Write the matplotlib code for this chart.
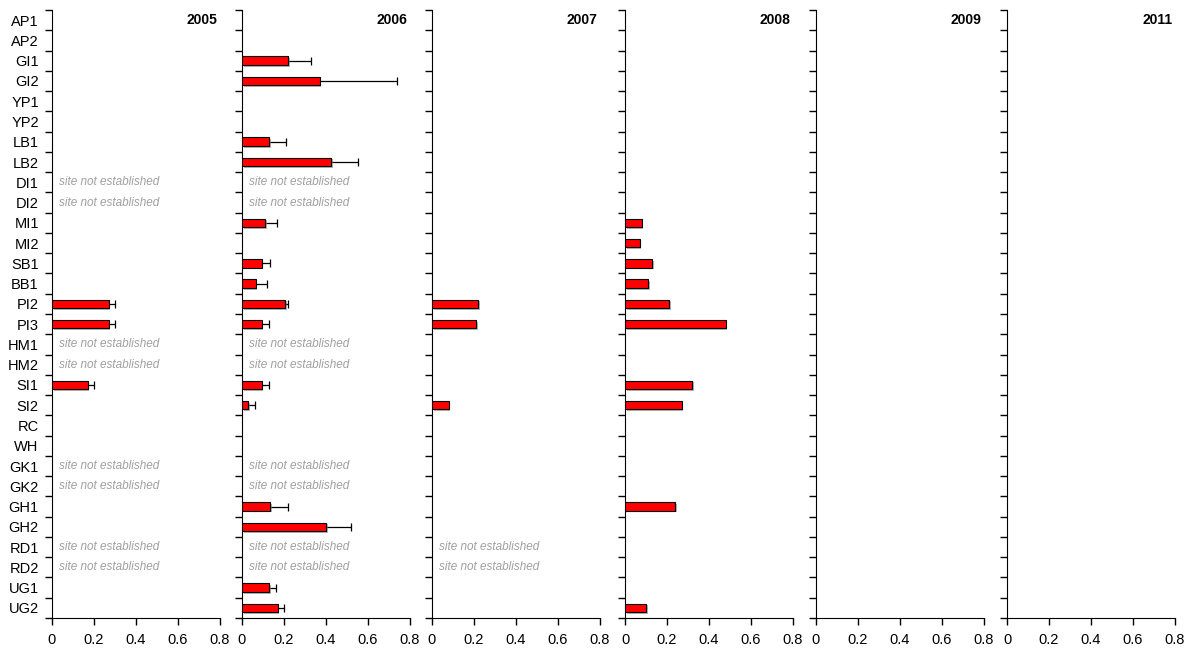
import numpy as np
import matplotlib.pyplot as plt
import matplotlib.patheffects as pe

plt.rcParams["font.family"] = ["Liberation Sans", "DejaVu Sans"]

sites = ["AP1", "AP2", "GI1", "GI2", "YP1", "YP2", "LB1", "LB2", "DI1", "DI2",
         "MI1", "MI2", "SB1", "BB1", "PI2", "PI3", "HM1", "HM2", "SI1", "SI2",
         "RC", "WH", "GK1", "GK2", "GH1", "GH2", "RD1", "RD2", "UG1", "UG2"]

years = ["2005", "2006", "2007", "2008", "2009", "2011"]

# mean values per site (missing = no bar)
vals_2005 = {"PI2": 0.27, "PI3": 0.27, "SI1": 0.17}
err_2005 = {"PI2": 0.03, "PI3": 0.03, "SI1": 0.03}

vals_2006 = {"GI1": 0.22, "GI2": 0.37, "LB1": 0.13, "LB2": 0.425, "MI1": 0.11,
             "SB1": 0.094, "BB1": 0.065, "PI2": 0.205, "PI3": 0.094, "SI1": 0.094,
             "SI2": 0.03, "GH1": 0.133, "GH2": 0.40, "UG1": 0.13, "UG2": 0.17}
err_2006 = {"GI1": 0.11, "GI2": 0.37, "LB1": 0.08, "LB2": 0.125, "MI1": 0.057,
            "SB1": 0.039, "BB1": 0.055, "PI2": 0.015, "PI3": 0.036, "SI1": 0.036,
            "SI2": 0.032, "GH1": 0.087, "GH2": 0.12, "UG1": 0.03, "UG2": 0.03}

vals_2007 = {"PI2": 0.22, "PI3": 0.21, "SI2": 0.08}
err_2007 = {}

vals_2008 = {"MI1": 0.08, "MI2": 0.07, "SB1": 0.13, "BB1": 0.11, "PI2": 0.21,
             "PI3": 0.48, "SI1": 0.32, "SI2": 0.27, "GH1": 0.24, "UG2": 0.10}
err_2008 = {}

vals_2009 = {}
err_2009 = {}
vals_2011 = {}
err_2011 = {}

not_est_2005 = ["DI1", "DI2", "HM1", "HM2", "GK1", "GK2", "RD1", "RD2"]
not_est_2006 = ["DI1", "DI2", "HM1", "HM2", "GK1", "GK2", "RD1", "RD2"]
not_est_2007 = ["RD1", "RD2"]

all_vals = [vals_2005, vals_2006, vals_2007, vals_2008, vals_2009, vals_2011]
all_errs = [err_2005, err_2006, err_2007, err_2008, err_2009, err_2011]
all_not_est = [not_est_2005, not_est_2006, not_est_2007, [], [], []]

fig = plt.figure(figsize=(11.94, 6.48), dpi=100)

lefts = [52, 242, 432, 625, 816, 1007]
n = len(sites)
y = np.arange(n)

for i, year in enumerate(years):
    ax = fig.add_axes([lefts[i] / 1194, 1 - 618 / 648, 168 / 1194, 608 / 648])

    v = np.array([all_vals[i].get(s, np.nan) for s in sites])
    e = np.array([all_errs[i].get(s, np.nan) for s in sites])

    bars = ax.barh(y, v, height=0.42, color="#ff0000", edgecolor="black",
                   linewidth=0.8, zorder=3)
    for b in bars:
        b.set_path_effects([pe.SimplePatchShadow(offset=(1.2, -1.2),
                                                 shadow_rgbFace="#808080",
                                                 alpha=0.6), pe.Normal()])

    # upper error only, cap on the right end
    has_err = ~np.isnan(e)
    if has_err.any():
        ax.hlines(y[has_err], v[has_err], v[has_err] + e[has_err],
                  color="black", linewidth=0.9, zorder=2)
        ax.plot(v[has_err] + e[has_err], y[has_err], linestyle="none",
                marker="|", markersize=6, markeredgewidth=0.9,
                color="black", zorder=2)

    for s in all_not_est[i]:
        ax.text(0.035, sites.index(s), "site not established", fontsize=8.5,
                style="italic", color="#a0a0a0", va="center", ha="left")

    ax.text(0.985, 0, year, transform=ax.get_yaxis_transform(), fontsize=10,
            fontweight="bold", ha="right", va="center")

    ax.set_xlim(0, 0.8)
    ax.set_ylim(n - 0.5, -0.5)
    ax.set_xticks([0, 0.2, 0.4, 0.6, 0.8])
    ax.set_xticklabels(["0", "0.2", "0.4", "0.6", "0.8"], fontsize=10.5)

    ax.set_yticks(y)
    if i == 0:
        ax.set_yticklabels(sites, fontsize=10.5)
    else:
        ax.set_yticklabels([])
    ax.set_yticks(np.arange(-0.5, n, 1), minor=True)
    ax.tick_params(axis="y", which="major", length=0, pad=9.5)
    ax.tick_params(axis="y", which="minor", length=5, width=1)
    ax.tick_params(axis="x", length=5, width=1, pad=6)

    ax.spines["top"].set_visible(False)
    ax.spines["right"].set_visible(False)

plt.savefig("out.png", dpi=100)
